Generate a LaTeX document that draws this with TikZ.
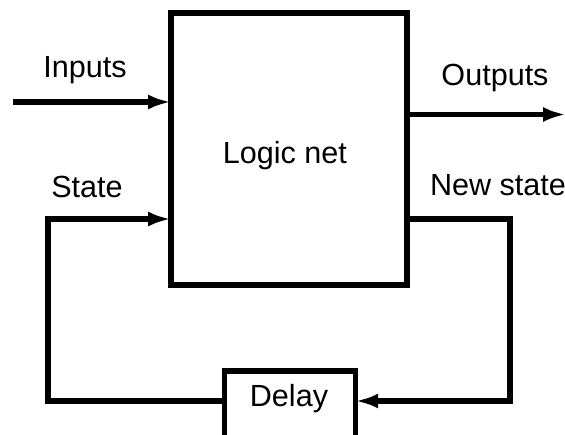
\documentclass[tikz,border=0pt]{standalone}
\usepackage{fontspec}
\setmainfont{Liberation Sans}
\usetikzlibrary{arrows.meta}

\tikzset{
  block/.style={draw, line width=3.1pt, outer sep=0pt, inner sep=0pt},
  wire/.style={line width=3.1pt},
  arr/.style={wire, -{Latex[length=0.46cm, width=0.3cm]}},
  lbl/.style={anchor=base, inner sep=0pt, font=\fontsize{17.4}{20}\selectfont}
}

\begin{document}
\begin{tikzpicture}[x=0.02cm, y=-0.02cm]
  \useasboundingbox (0, 0) rectangle (565, 434);

  % Blocks
  \node[block, minimum width=4.72cm, minimum height=5.44cm] (logic) at (289, 149) {};
  \node[block, minimum width=2.61cm, minimum height=1.58cm] (delay) at (290, 410.5) {};

  % Texts
  \node[lbl] (logictxt) at (285, 163.3) {Logic net};
  \node[lbl] (delaytxt) at (289, 406.7) {Delay};
  \node[lbl] (intxt) at (85, 77) {Inputs};
  \node[lbl] (outtxt) at (495, 85) {Outputs};
  \node[lbl] (sttxt) at (87, 197) {State};
  \node[lbl] (nsttxt) at (498, 195) {New state};

  % Wire corners and free ends
  \coordinate (in) at (13, 102);
  \coordinate (out) at (566, 114.5);
  \coordinate (stl) at (48, 219);
  \coordinate (stb) at (48, 401);
  \coordinate (nsr) at (510, 219);
  \coordinate (nsb) at (510, 401);

  % Connectors
  \draw[arr] (in) -- (in -| logic.west);
  \draw[arr] (out -| logic.east) -- (out);
  \draw[arr] (delay.west |- stb) -- (stb) -- (stl) -- (stl -| logic.west);
  \draw[arr] (nsr -| logic.east) -- (nsr) -- (nsb) -- (nsb -| delay.east);
\end{tikzpicture}
\end{document}
